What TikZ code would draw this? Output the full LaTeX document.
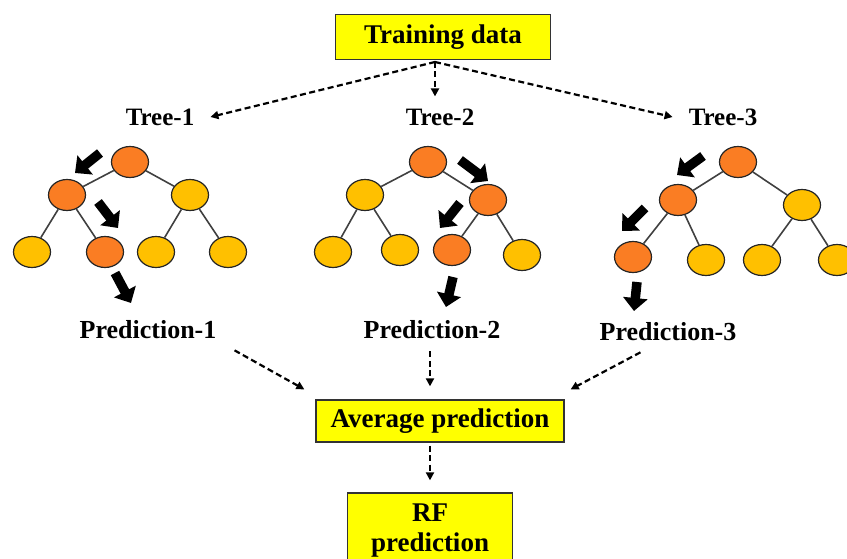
\documentclass[tikz,border=0pt]{standalone}
\usepackage{fontspec}
\setmainfont{Liberation Serif}
\usetikzlibrary{shapes.geometric,arrows.meta,positioning}
\definecolor{hotnode}{RGB}{250,125,35}
\definecolor{coldnode}{RGB}{255,192,0}
\definecolor{boxfill}{RGB}{255,255,0}

\begin{document}
\begin{tikzpicture}[
    x=1pt, y=-1pt,
    box/.style={
        rectangle, draw=black!80, line width=1.3pt,
        fill=boxfill, align=center,
        font=\fontsize{27}{30}\selectfont\bfseries
    },
    lbl/.style={inner sep=2pt, font=\fontsize{25}{28}\selectfont\bfseries},
    hot/.style={ellipse, draw=black!85, line width=1.2pt, fill=hotnode,
        minimum width=37pt, minimum height=31pt, inner sep=0pt},
    cold/.style={hot, fill=coldnode},
    edge/.style={draw=black!75, line width=1.6pt},
    dasharrow/.style={-{Triangle[length=8pt,width=8pt]}, line width=2.2pt,
        dash pattern=on 6pt off 3.5pt},
    bigarrow/.style={line width=9.5pt, -{Triangle[length=13pt,width=24pt]}},
]
  \useasboundingbox (0,0) rectangle (847,559);

  %––– Boxes and labels ––––––––––––––––––––––––––––––––––––
  \node (td) [box, minimum width=215pt, minimum height=45pt] at (443,37) {Training data};
  \coordinate (split) at (435,62);

  \node (t1) [lbl] at (160,117) {Tree-1};
  \node (t2) [lbl] at (440,117) {Tree-2};
  \node (t3) [lbl] at (723,117) {Tree-3};

  \node (p1) [lbl, font=\fontsize{26}{28}\selectfont\bfseries] at (148,330) {Prediction-1};
  \node (p2) [lbl, font=\fontsize{26}{28}\selectfont\bfseries] at (432,330) {Prediction-2};
  \node (p3) [lbl, font=\fontsize{26}{28}\selectfont\bfseries] at (668,332) {Prediction-3};

  \node (avg) [box, minimum width=248pt, minimum height=42pt] at (440,421) {Average prediction};
  \node (rf) [box, minimum width=165pt, minimum height=76pt] at (430,531) {RF\\prediction};

  %––– Tree 1 –––––––––––––––––––––––––––––––––––––––––––––––
  \node (a1) [hot]  at (130,162) {};
  \node (a2) [hot]  at (67,195) {};
  \node (a3) [cold] at (190,195) {};
  \node (a4) [cold] at (32,252) {};
  \node (a5) [hot]  at (105,252) {};
  \node (a6) [cold] at (156,252) {};
  \node (a7) [cold] at (228,252) {};

  %––– Tree 2 –––––––––––––––––––––––––––––––––––––––––––––––
  \node (b1) [hot]  at (428,162) {};
  \node (b2) [cold] at (365,195) {};
  \node (b3) [hot]  at (488,200) {};
  \node (b4) [cold] at (333,252) {};
  \node (b5) [cold] at (400,250) {};
  \node (b6) [hot]  at (452,250) {};
  \node (b7) [cold] at (522,255) {};

  %––– Tree 3 –––––––––––––––––––––––––––––––––––––––––––––––
  \node (c1) [hot]  at (738,162) {};
  \node (c2) [hot]  at (678,200) {};
  \node (c3) [cold] at (802,205) {};
  \node (c4) [hot]  at (633,257) {};
  \node (c5) [cold] at (706,260) {};
  \node (c6) [cold] at (762,260) {};
  \node (c7) [cold] at (837,260) {};

  %––– Tree edges –––––––––––––––––––––––––––––––––––––––––––
  \foreach \t in {a,b,c}{
    \draw[edge] (\t1) -- (\t2);
    \draw[edge] (\t1) -- (\t3);
    \draw[edge] (\t2) -- (\t4);
    \draw[edge] (\t2) -- (\t5);
    \draw[edge] (\t3) -- (\t6);
    \draw[edge] (\t3) -- (\t7);
  }

  %––– Decision paths –––––––––––––––––––––––––––––––––––––––
  \draw[bigarrow] (100,153) -- (75,173);
  \draw[bigarrow] (98,202) -- (118,228);
  \draw[bigarrow] (115,273) -- (131,303);

  \draw[bigarrow] (460,160) -- (488,181);
  \draw[bigarrow] (460,203) -- (440,228);
  \draw[bigarrow] (453,277) -- (446,307);

  \draw[bigarrow] (703,156) -- (677,175);
  \draw[bigarrow] (645,208) -- (622,231);
  \draw[bigarrow] (637,282) -- (634,311);

  %––– Dashed arrows ––––––––––––––––––––––––––––––––––––––––
  \draw[dasharrow] (split) -- ([xshift=14pt]t1.east);
  \draw[dasharrow] (split) -- ([xshift=-5pt,yshift=10pt]t2.north);
  \draw[dasharrow] (split) -- ([xshift=-14pt]t3.west);

  \draw[dasharrow] ([xshift=16pt,yshift=-9pt]p1.south east) -- ([xshift=-11pt,yshift=10pt]avg.north west);
  \draw[dasharrow] ([xshift=-2pt,yshift=-10pt]p2.south) -- ([xshift=-10pt,yshift=13pt]avg.north);
  \draw[dasharrow] ([xshift=43pt,yshift=-9pt]p3.south west) -- ([xshift=6pt,yshift=10pt]avg.north east);

  \draw[dasharrow] ([xshift=-10pt,yshift=-3pt]avg.south) -- ([yshift=12pt]rf.north);
\end{tikzpicture}
\end{document}
